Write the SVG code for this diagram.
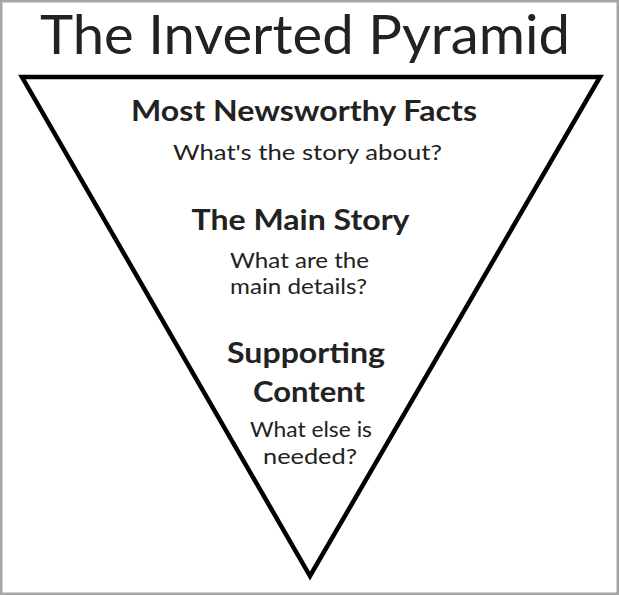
<svg xmlns="http://www.w3.org/2000/svg" width="619" height="595" viewBox="0 0 619 595">
  <style>
    text { font-family: Lato, "Open Sans", "Liberation Sans", sans-serif; fill: #222222; text-anchor: middle; }
    .title { font-size: 54px; }
    .head { font-size: 28px; font-weight: bold; }
    .sub { font-size: 21.5px; }
  </style>
  <rect x="0" y="0" width="619" height="595" fill="#ffffff"/>
  <rect x="1.25" y="1.25" width="616.5" height="592.5" fill="none" stroke="#a6a6a6" stroke-width="2.5"/>
  <g id="title">
    <text class="title" x="305" y="53.5" textLength="530" lengthAdjust="spacingAndGlyphs">The Inverted Pyramid</text>
  </g>
  <g id="pyramid">
    <polygon points="22,77 600,77 310,576" fill="none" stroke="#000000" stroke-width="4.5" stroke-linejoin="miter" stroke-miterlimit="10"/>
  </g>
  <g id="level1">
    <text class="head" x="304" y="121" textLength="346" lengthAdjust="spacingAndGlyphs">Most Newsworthy Facts</text>
    <text class="sub" x="307.5" y="160" textLength="269" lengthAdjust="spacingAndGlyphs">What's the story about?</text>
  </g>
  <g id="level2">
    <text class="head" x="300.5" y="230" textLength="218" lengthAdjust="spacingAndGlyphs">The Main Story</text>
    <text class="sub" x="299.5" y="268" textLength="139" lengthAdjust="spacingAndGlyphs">What are the</text>
    <text class="sub" x="298.5" y="294" textLength="137" lengthAdjust="spacingAndGlyphs">main details?</text>
  </g>
  <g id="level3">
    <text class="head" x="306" y="363" textLength="158" lengthAdjust="spacingAndGlyphs">Supporting</text>
    <text class="head" x="309" y="402" textLength="112" lengthAdjust="spacingAndGlyphs">Content</text>
    <text class="sub" x="311" y="437" textLength="122" lengthAdjust="spacingAndGlyphs">What else is</text>
    <text class="sub" x="310" y="464" textLength="94" lengthAdjust="spacingAndGlyphs">needed?</text>
  </g>
</svg>
